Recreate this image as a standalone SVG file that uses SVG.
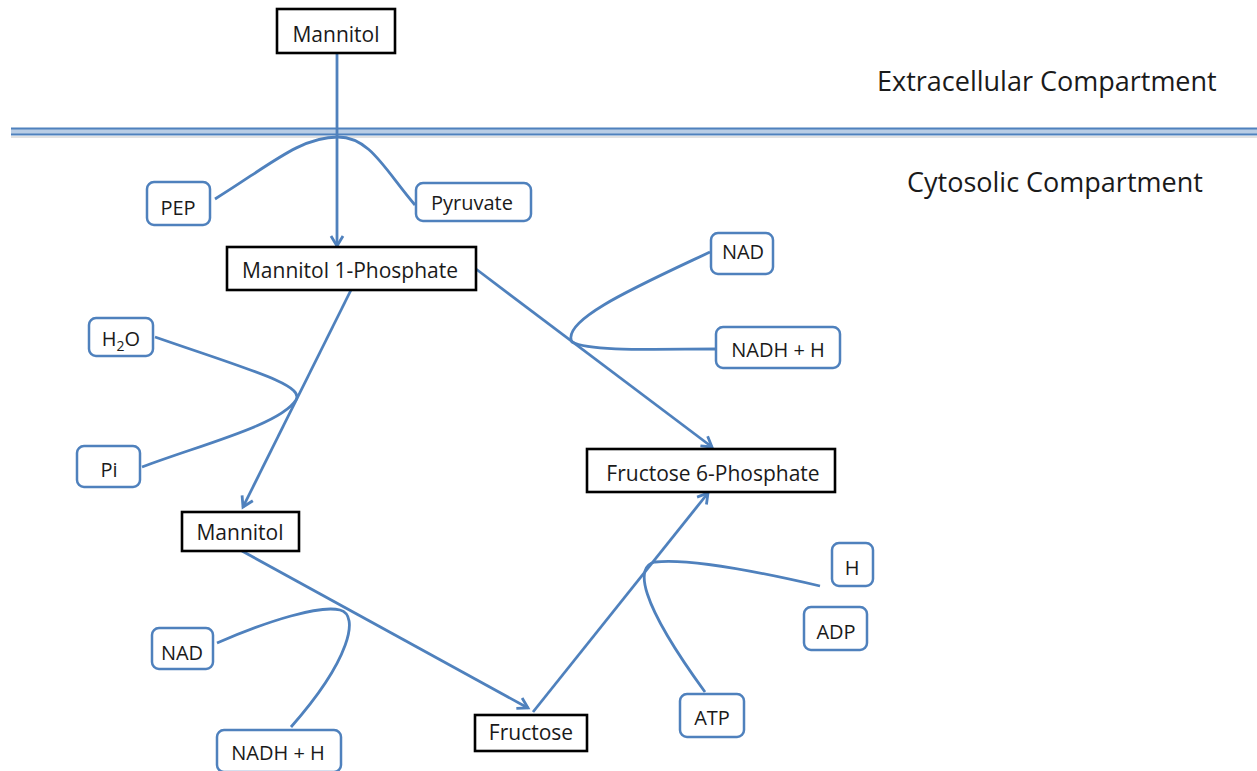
<svg xmlns="http://www.w3.org/2000/svg" width="1257" height="771" viewBox="0 0 1257 771">
<style>
.bx{fill:#fff;stroke:#000;stroke-width:2.6}
.bl{fill:#fff;stroke:#4f81bd;stroke-width:2.5}
.t{font-family:"Open Sans","Liberation Sans",sans-serif;font-size:20px;fill:#1a1a1a;text-anchor:middle}
.tb{font-size:21px}
.lbl{font-family:"Open Sans","Liberation Sans",sans-serif;font-size:27px;fill:#1a1a1a}
.c{fill:none;stroke:#4f81bd;stroke-width:2.8}
</style>
<defs>
<marker id="ah" viewBox="0 0 16 16" markerWidth="16" markerHeight="16" refX="13" refY="8" orient="auto" markerUnits="userSpaceOnUse">
<path d="M3,2 L13,8 L3,14" fill="none" stroke="#4f81bd" stroke-width="2.8"/>
</marker>
</defs>
<rect width="1257" height="771" fill="#fff"/>
<g id="membrane">
<rect x="11" y="128.5" width="1246" height="6" fill="#b9cde5"/>
<line x1="11" y1="128.5" x2="1257" y2="128.5" stroke="#4f81bd" stroke-width="2"/>
<line x1="11" y1="134.5" x2="1257" y2="134.5" stroke="#4f81bd" stroke-width="2"/>
<line x1="11" y1="137" x2="1257" y2="137" stroke="#d9d9d9" stroke-width="1.5"/>
</g>
<text class="lbl" x="877" y="91">Extracellular Compartment</text>
<text class="lbl" x="907" y="192">Cytosolic Compartment</text>
<g id="connectors">
<line class="c" x1="337" y1="53" x2="337" y2="246" marker-end="url(#ah)"/>
<path class="c" d="M215,199 C270,165 300,137 338,137 C370,137 385,170 415,205"/>
<line class="c" x1="351" y1="290" x2="243" y2="507" marker-end="url(#ah)"/>
<path class="c" d="M155,337 C250,370 305,385 296,400 C280,425 200,445 142,467"/>
<line class="c" x1="476" y1="269" x2="712" y2="447" marker-end="url(#ah)"/>
<path class="c" d="M710,252 C640,285 560,320 572,342 C590,352 660,349 718,349"/>
<line class="c" x1="242" y1="551" x2="528" y2="708" marker-end="url(#ah)"/>
<path class="c" d="M217,643 C270,620 320,605 340,610 C360,615 350,660 291,727"/>
<line class="c" x1="533" y1="712" x2="708" y2="493" marker-end="url(#ah)"/>
<path class="c" d="M820,586 C760,572 690,558 655,562 C635,566 638,600 705,692"/>
</g>
<g id="mannitol-top"><rect class="bx" x="277" y="9" width="118" height="44"/><text class="t tb" x="336" y="42">Mannitol</text></g>
<g id="m1p"><rect class="bx" x="227" y="247" width="249" height="43"/><text class="t tb" x="350" y="278">Mannitol 1-Phosphate</text></g>
<g id="pep"><rect class="bl" x="147" y="182" width="63" height="43" rx="7"/><text class="t" x="178" y="215">PEP</text></g>
<g id="pyruvate"><rect class="bl" x="416" y="183" width="115" height="38" rx="7"/><text class="t" x="472" y="210">Pyruvate</text></g>
<g id="h2o"><rect class="bl" x="89" y="318" width="64" height="38" rx="7"/><text class="t" x="121" y="346">H<tspan font-size="14" dy="5">2</tspan><tspan dy="-5">O</tspan></text></g>
<g id="pi"><rect class="bl" x="77" y="446" width="63" height="41" rx="7"/><text class="t" x="109" y="477">Pi</text></g>
<g id="mannitol-low"><rect class="bx" x="182" y="512" width="117" height="39"/><text class="t tb" x="240" y="540">Mannitol</text></g>
<g id="nad-r"><rect class="bl" x="711" y="233" width="62" height="41" rx="7"/><text class="t" x="743" y="259">NAD</text></g>
<g id="nadh-r"><rect class="bl" x="716" y="327" width="124" height="41" rx="7"/><text class="t" x="778" y="357">NADH + H</text></g>
<g id="f6p"><rect class="bx" x="587" y="449" width="248" height="43"/><text class="t tb" x="713" y="481">Fructose 6-Phosphate</text></g>
<g id="nad-l"><rect class="bl" x="152" y="628" width="61" height="41" rx="7"/><text class="t" x="182" y="660">NAD</text></g>
<g id="nadh-l"><rect class="bl" x="217" y="730" width="124" height="42" rx="7"/><text class="t" x="278" y="760">NADH + H</text></g>
<g id="fructose"><rect class="bx" x="475" y="715" width="112" height="36"/><text class="t tb" x="531" y="740">Fructose</text></g>
<g id="h"><rect class="bl" x="832" y="543" width="41" height="43" rx="7"/><text class="t" x="852" y="575">H</text></g>
<g id="adp"><rect class="bl" x="804" y="607" width="63" height="43" rx="7"/><text class="t" x="836" y="639">ADP</text></g>
<g id="atp"><rect class="bl" x="680" y="694" width="64" height="43" rx="7"/><text class="t" x="712" y="725">ATP</text></g>
</svg>
